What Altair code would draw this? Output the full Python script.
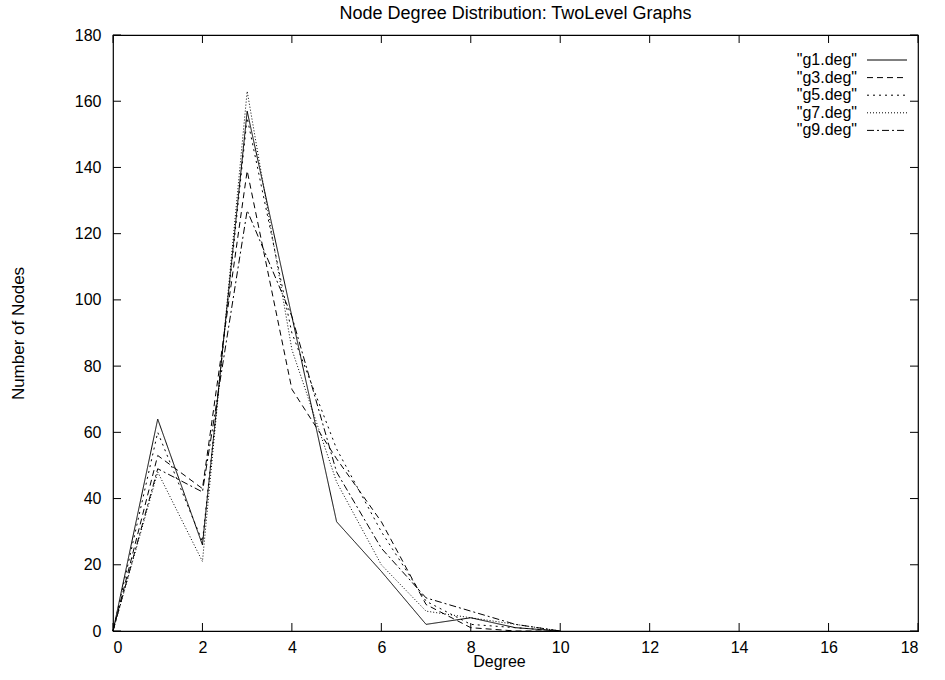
import altair as alt
import pandas as pd

degree = [0, 1, 2, 3, 4, 5, 6, 7, 8, 9, 10]
names = ['"g1.deg"', '"g3.deg"', '"g5.deg"', '"g7.deg"', '"g9.deg"']
g1 = [0, 64, 26, 157, 95, 33, 18, 2, 4, 1, 0]
g3 = [0, 53, 43, 139, 73, 52, 33, 8, 1, 0, 0]
g5 = [0, 60, 27, 155, 90, 55, 30, 9, 2, 1, 0]
g7 = [0, 48, 21, 163, 85, 45, 20, 6, 4, 2, 0]
g9 = [0, 49, 42, 127, 95, 48, 25, 10, 6, 2, 0]
x_ticks = [0, 2, 4, 6, 8, 10, 12, 14, 16, 18]
y_ticks = [0, 20, 40, 60, 80, 100, 120, 140, 160, 180]

W, H = 805, 596
FONT = "Liberation Sans"
FS = 16

rows = []
for n, vals in zip(names, [g1, g3, g5, g7, g9]):
    for d, v in zip(degree, vals):
        rows.append({"series": n, "degree": d, "count": v})
df = pd.DataFrame(rows)

dash_scale = alt.Scale(domain=names, range=[[1, 0], [6, 4], [2, 4], [1, 2], [7, 3, 2, 3]])
xs = alt.Scale(domain=[0, 18], nice=False, zero=False)
ys = alt.Scale(domain=[0, 180], nice=False)

lines = alt.Chart(df).mark_line(color="black", strokeWidth=1).encode(
    x=alt.X("degree:Q", scale=xs,
            axis=alt.Axis(values=x_ticks, title="Degree", ticks=False, grid=False,
                          domain=False, labelPadding=8, titleX=386, titleY=30,
                          titleAlign="center", titleBaseline="middle",
                          titleFontWeight="normal", labelFont=FONT, labelFontSize=FS,
                          labelColor="black", titleFont=FONT, titleFontSize=FS,
                          titleColor="black")),
    y=alt.Y("count:Q", scale=ys,
            axis=alt.Axis(values=y_ticks, title="Number of Nodes", ticks=False, grid=False,
                          domain=False, labelPadding=12, titleX=-95, titleY=H / 2,
                          titleAngle=270, titleAlign="center", titleBaseline="middle",
                          titleFontWeight="normal", labelFont=FONT, labelFontSize=FS,
                          labelColor="black", titleFont=FONT, titleFontSize=17,
                          titleColor="black")),
    strokeDash=alt.StrokeDash("series:N", scale=dash_scale, legend=None),
    detail="series:N",
)

xt = pd.DataFrame({"t": x_ticks})
yt = pd.DataFrame({"t": y_ticks})
tick_bottom = alt.Chart(xt).mark_rule(color="black").encode(
    x=alt.X("t:Q", scale=xs), y=alt.value(H), y2=alt.value(H - 8))
tick_top = alt.Chart(xt).mark_rule(color="black").encode(
    x=alt.X("t:Q", scale=xs), y=alt.value(0), y2=alt.value(8))
tick_left = alt.Chart(yt).mark_rule(color="black").encode(
    y=alt.Y("t:Q", scale=ys), x=alt.value(0), x2=alt.value(8))
tick_right = alt.Chart(yt).mark_rule(color="black").encode(
    y=alt.Y("t:Q", scale=ys), x=alt.value(W), x2=alt.value(W - 8))

leg = pd.DataFrame({"series": names, "i": list(range(len(names)))})
leg_base = alt.Chart(leg).transform_calculate(ly="25 + 17.6 * datum.i")
leg_text = leg_base.mark_text(align="right", baseline="middle", font=FONT, fontSize=FS,
                              color="black").encode(
    x=alt.value(744), y=alt.Y("ly:Q", scale=None), text="series:N")
leg_line = leg_base.mark_rule(color="black", strokeWidth=1).encode(
    x=alt.value(754), x2=alt.value(794), y=alt.Y("ly:Q", scale=None),
    strokeDash=alt.StrokeDash("series:N", scale=dash_scale, legend=None))

chart = alt.layer(lines, tick_bottom, tick_top, tick_left, tick_right, leg_line, leg_text).properties(
    width=W, height=H,
    title=alt.TitleParams("Node Degree Distribution: TwoLevel Graphs", font=FONT, fontSize=18,
                          fontWeight="normal", anchor="middle", offset=4, color="black"),
    autosize=alt.AutoSizeParams(type="none"),
    padding={"left": 113, "top": 35, "right": 27, "bottom": 49},
    background="white",
).configure_view(stroke="black", strokeWidth=1.2)

chart.save("out.html", embed_options={"renderer": "svg", "actions": False})
